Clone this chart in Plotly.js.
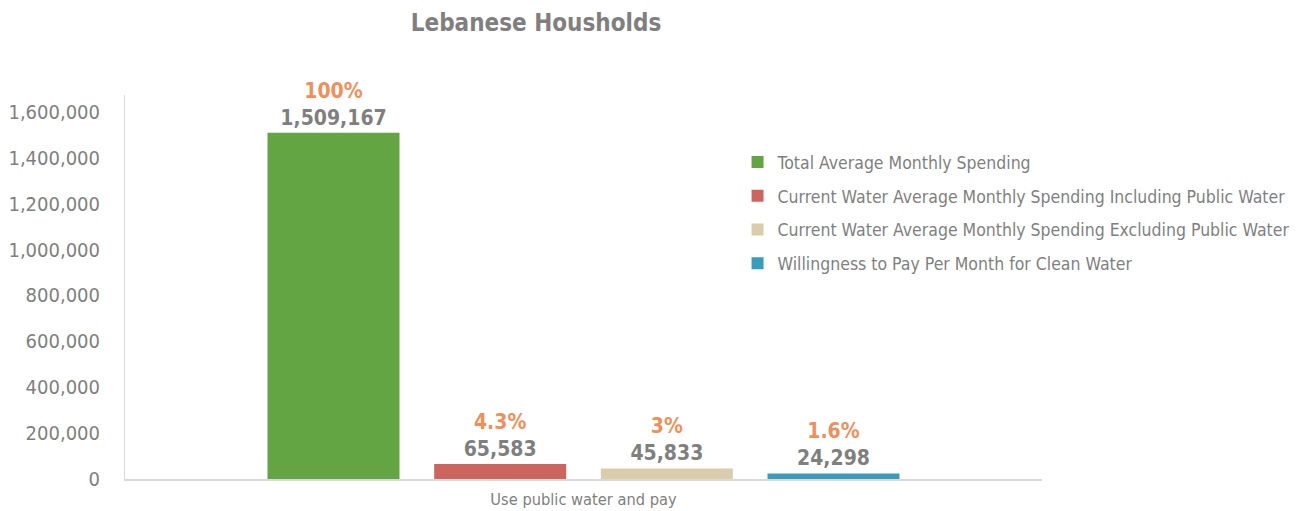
<!DOCTYPE html>
<html>
<head>
<meta charset="utf-8">
<script src="https://cdn.plot.ly/plotly-3.0.1.min.js"></script>
<style>html,body{margin:0;padding:0;background:#fff;}#chart{width:1306px;height:511px;}</style>
</head>
<body>
<div id="chart"></div>
<script>
const category = ["Use public water and pay"];
const seriesNames = [
  "Total Average Monthly Spending",
  "Current Water Average Monthly Spending Including Public Water",
  "Current Water Average Monthly Spending Excluding Public Water",
  "Willingness to Pay Per Month for Clean Water"
];
const seriesValues = [1509167, 65583, 45833, 24298];
const seriesPercents = ["100%", "4.3%", "3%", "1.6%"];
const seriesColors = ["#62A542", "#CD655F", "#DACDAC", "#3A9CBA"];
const yTickValues = [0, 200000, 400000, 600000, 800000, 1000000, 1200000, 1400000, 1600000];

const FONT = "'DejaVu Sans Condensed', 'Liberation Sans Narrow', sans-serif";
const GRAY = "#7F7F7F";
const ORANGE = "#EF8F5A";

const traces = seriesNames.map((name, i) => ({
  type: "bar",
  name: name,
  x: category,
  y: [seriesValues[i]],
  marker: {color: seriesColors[i]},
  legendgroup: "g" + i,
  text: ["<span style='color:" + ORANGE + "'>" + seriesPercents[i] + "</span><br>" + seriesValues[i].toLocaleString("en-US")],
  texttemplate: "<b>%{text}</b>",
  textposition: "outside",
  constraintext: "none",
  cliponaxis: false,
  textfont: {family: FONT, size: 21, color: GRAY},
  hoverinfo: "skip"
}));

const layout = {
  width: 1306,
  height: 511,
  paper_bgcolor: "#ffffff",
  plot_bgcolor: "#ffffff",
  font: {family: FONT, color: GRAY},
  margin: {l: 125, r: 264, t: 95, b: 32, autoexpand: false},
  title: {
    text: "<b>Lebanese Housholds</b>",
    font: {family: FONT, size: 24, color: GRAY},
    x: 536 / 1306, xanchor: "center", xref: "container",
    y: 1 - 23 / 511, yanchor: "middle", yref: "container"
  },
  barmode: "group",
  bargap: 0.273,
  bargroupgap: 0.208,
  showlegend: true,
  legend: {
    x: 0.668, xanchor: "left",
    y: 0.872, yanchor: "top",
    font: {family: FONT, size: 17.5, color: GRAY},
    bgcolor: "rgba(0,0,0,0)",
    tracegroupgap: 8,
    traceorder: "grouped"
  },
  xaxis: {
    showline: true, linecolor: "#D9D9D9", linewidth: 2,
    showgrid: false, zeroline: false,
    ticks: "",
    ticklabelstandoff: 4,
    tickfont: {family: FONT, size: 16.3, color: GRAY},
    fixedrange: true
  },
  yaxis: {
    range: [0, 1674000],
    tickvals: yTickValues,
    tickformat: ",d",
    showline: true, linecolor: "#D9D9D9", linewidth: 1,
    showgrid: false, zeroline: false,
    ticks: "",
    ticklabelstandoff: 20,
    tickfont: {family: FONT, size: 20, color: GRAY},
    fixedrange: true
  }
};

Plotly.newPlot("chart", traces, layout, {displayModeBar: false, staticPlot: true});
</script>
</body>
</html>
